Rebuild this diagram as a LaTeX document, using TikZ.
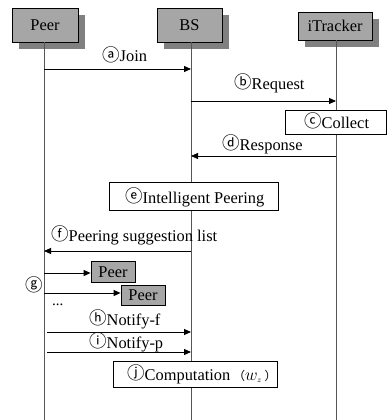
\documentclass[tikz,border=0pt]{standalone}
\usepackage{fontspec}
\setmainfont{Liberation Serif}
\newfontfamily\cjkfont{Noto Sans CJK SC}
\usetikzlibrary{arrows.meta,shadows}
\newcommand{\cl}[1]{\raisebox{1pt}{\cjkfont\fontsize{17.5}{17.5}\selectfont #1}}
\definecolor{boxgray}{RGB}{166,166,166}
\definecolor{shadegray}{RGB}{128,128,128}
\definecolor{lifegray}{RGB}{85,85,85}
\begin{document}
\begin{tikzpicture}[x=1pt,y=-1pt,
  every node/.style={font=\fontsize{16.4}{18}\selectfont, inner sep=0pt},
  actor/.style={draw=black, fill=boxgray, line width=0.8pt,
    drop shadow={shadow xshift=7pt, shadow yshift=-7pt, fill=shadegray, opacity=1}},
  actbox/.style={draw=black, line width=0.8pt, fill=white},
  peerbox/.style={draw=black, line width=0.8pt, fill=boxgray, minimum width=44pt, minimum height=20.5pt},
  lifeline/.style={draw=lifegray, line width=1pt},
  msg/.style={draw=black, line width=0.9pt, -{Triangle[length=7pt,width=6pt]}},
  lbl/.style={anchor=base west}]
\useasboundingbox (0,0) rectangle (386,420);
\fill[white] (0,0) rectangle (386,420);

% lifeline ends
\coordinate (pe) at (44,420);
\coordinate (be) at (191,420);
\coordinate (ie) at (336,420);

% actors
\node[actor, minimum width=66pt, minimum height=34pt] (peer) at (45,25) {Peer};
\node[actor, minimum width=65pt, minimum height=34pt] (bs) at (189.5,25) {BS};
\node[actor, minimum width=74pt, minimum height=28pt] (itr) at (335,26) {iTracker};

\draw[lifeline] (peer.south -| pe) -- (pe);
\draw[lifeline] (bs.south -| be) -- (be);
\draw[lifeline] (itr.south -| ie) -- (ie);

% (a) join
\coordinate (a1) at (44,69);
\coordinate (a2) at (191,69);
\draw[msg] (a1) -- (a2);
\node[lbl] (la) at (102,62) {\cl{ⓐ}Join};

% (b) request
\coordinate (b1) at (191,101);
\coordinate (b2) at (336,101);
\draw[msg] (b1) -- (b2);
\node[lbl] (lb) at (234,89) {\cl{ⓑ}Request};

% (c) collect
\node[actbox, minimum width=101pt, minimum height=24pt] (collect) at (335.5,122) {};
\node[lbl] (lc) at (304,128.5) {\cl{ⓒ}Collect};

% (d) response
\coordinate (d1) at (336,156);
\coordinate (d2) at (191,156);
\draw[msg] (d1) -- (d2);
\node[lbl] (ld) at (222,150) {\cl{ⓓ}Response};

% (e) intelligent peering
\node[actbox, minimum width=169pt, minimum height=28pt] (ip) at (193.5,196) {};
\node[lbl] (le) at (125,203) {\cl{ⓔ}Intelligent Peering};

% (f) suggestion list
\coordinate (f1) at (191,251);
\coordinate (f2) at (44,251);
\draw[msg] (f1) -- (f2);
\node[lbl] (lf) at (51,241) {\cl{ⓕ}Peering suggestion list};

% (g) contacting peers
\node[peerbox] (p1) at (113,272) {Peer};
\node[peerbox] (p2) at (143,295.5) {Peer};
\coordinate (g1) at (44,273);
\coordinate (g2) at (44,293);
\draw[msg] (g1) -- (p1.west |- g1);
\draw[msg] (g2) -- (p2.west |- g2);
\node[lbl] (lg) at (25,292) {\cl{ⓖ}};
\node[lbl] (dots) at (52,305) {\fontsize{15}{15}\selectfont ...};

% (h) notify-f
\coordinate (h1) at (47,332);
\coordinate (h2) at (191,332);
\draw[msg] (h1) -- (h2);
\node[lbl] (lh) at (89,325) {\cl{ⓗ}Notify-f};

% (i) notify-p
\coordinate (i1) at (47,352);
\coordinate (i2) at (191,352);
\draw[msg] (i1) -- (i2);
\node[lbl] (li) at (89,348) {\cl{ⓘ}Notify-p};

% (j) computation
\node[actbox, minimum width=164pt, minimum height=26pt] (comp) at (195,374) {};
\node[lbl] (lj) at (127,380) {\cl{ⓙ}Computation\,{\cjkfont\fontsize{12}{12}\selectfont （}$w_{\scriptscriptstyle z}$\,{\cjkfont\fontsize{12}{12}\selectfont ）}};
\end{tikzpicture}
\end{document}
